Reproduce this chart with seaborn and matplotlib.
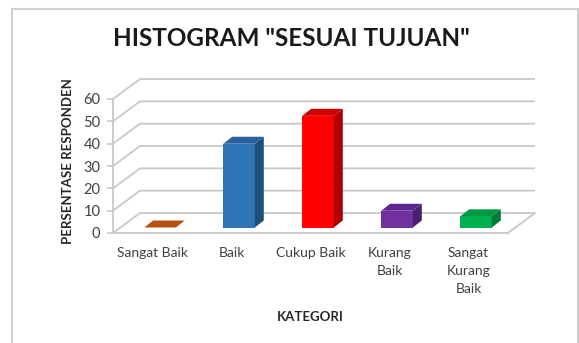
import numpy as np
import pandas as pd
import matplotlib
matplotlib.use("Agg")
import matplotlib.pyplot as plt
import seaborn as sns
from matplotlib.patches import Polygon, Rectangle
from matplotlib.transforms import offset_copy

# ---- data ----
categories = ["Sangat Baik", "Baik", "Cukup Baik", "Kurang Baik", "Sangat Kurang Baik"]
tick_labels = ["Sangat Baik", "Baik", "Cukup Baik", "Kurang\nBaik", "Sangat\nKurang\nBaik"]
values = [0, 37.5, 50, 7.5, 5]
yticks = [0, 10, 20, 30, 40, 50, 60]
title = 'HISTOGRAM "SESUAI TUJUAN"'
xlabel = "KATEGORI"
ylabel = "PERSENTASE RESPONDEN"

# ---- styles ----
front_c = ["#C55A11", "#2E75B6", "#FF0000", "#7030A0", "#00B050"]
side_c = ["#8A3E0B", "#1F4E79", "#B00000", "#4B1F6F", "#007A37"]
top_c = ["#B5520F", "#2A62A0", "#D00000", "#5E2690", "#009A45"]
grid_c = "#C8C8C8"
text_c = "#404040"

sns.set_theme(style="white")
plt.rcParams["font.family"] = ["Lato", "DejaVu Sans"]

W, H = 579, 343
fig = plt.figure(figsize=(W / 100, H / 100), dpi=100)
ax = fig.add_axes([113 / W, 110 / H, 395 / W, 134 / H])

df = pd.DataFrame({"kategori": categories, "persen": values})
sns.barplot(data=df, x="kategori", y="persen", hue="kategori", palette=front_c,
            width=0.4, legend=False, ax=ax, saturation=1, linewidth=0, zorder=5)
ax.set_xlim(-0.5, 4.5)
ax.set_ylim(0, 60)

# pixel -> data conversions
px_x = 395 / 5.0
px_y = 134 / 60.0
DX, DY = 27 / px_x, 20 / px_y  # wall depth
x0, x1 = -0.5, 4.5

# back wall gridlines + side wall slants
for v in yticks:
    ax.plot([x0, x0 + DX, x1 + DX], [v, v + DY, v + DY], color=grid_c, lw=1.3,
            clip_on=False, zorder=1, solid_capstyle="butt")
# floor right edge and front edge
ax.plot([x1, x1 + DX], [0, DY], color=grid_c, lw=1.3, clip_on=False, zorder=1)
ax.plot([x0, x1], [0, 0], color=grid_c, lw=1.3, clip_on=False, zorder=2)
ax.plot([x0, x0], [0, 60], color=grid_c, lw=1.3, clip_on=False, zorder=2)

# pseudo 3D faces for bars
shift = offset_copy(ax.transData, fig=fig, x=7.5, y=5.5, units="dots")
ddx, ddy = 9 / px_x, 7 / px_y
for i, p in enumerate(ax.patches):
    p.set_transform(shift)
    bx, by = p.get_x(), p.get_y()
    bw, bh = p.get_width(), p.get_height()
    sidep = Polygon([(bx + bw, by), (bx + bw + ddx, by + ddy),
                     (bx + bw + ddx, by + bh + ddy), (bx + bw, by + bh)],
                    closed=True, facecolor=side_c[i], edgecolor="none",
                    transform=shift, clip_on=False, zorder=5)
    topp = Polygon([(bx, by + bh), (bx + ddx, by + bh + ddy),
                    (bx + bw + ddx, by + bh + ddy), (bx + bw, by + bh)],
                   closed=True, facecolor=top_c[i], edgecolor="none",
                   transform=shift, clip_on=False, zorder=5)
    ax.add_patch(sidep)
    ax.add_patch(topp)
    p.set_clip_on(False)

for s in ax.spines.values():
    s.set_visible(False)

ax.set_yticks(yticks)
ax.set_yticklabels([str(t) for t in yticks])
ax.set_xticks(range(len(categories)))
ax.set_xticklabels(tick_labels, linespacing=1.6)
ax.tick_params(axis="y", length=4, width=1.2, color=grid_c, pad=5,
               labelsize=10.5, labelcolor=text_c, left=True, direction="out")
ax.tick_params(axis="x", length=0, pad=10, labelsize=10, labelcolor=text_c)
for lbl in ax.get_xticklabels():
    lbl.set_verticalalignment("top")
    lbl.set_horizontalalignment("center")

ax.set_xlabel(xlabel, fontsize=9.5, fontweight="bold", color="#262626")
ax.xaxis.set_label_coords(0.5, -0.627)
ax.xaxis.label.set_va("center")
ax.set_ylabel(ylabel, fontsize=9.5, fontweight="bold", color="#262626")
ax.yaxis.set_label_coords(-0.114, 0.534)
ax.yaxis.label.set_va("center")
ax.patch.set_alpha(0)

fig.text(291 / W, 1 - 39 / H, title, ha="center", va="center",
         fontsize=17.5, fontweight="bold", color="#1a1a1a")

fig.add_artist(Rectangle((12 / W, -0.02), (578 - 12) / W, 1 - 9 / H + 0.02,
                         transform=fig.transFigure, fill=False,
                         edgecolor="#D0D0D0", lw=1.5))

fig.savefig("out.png", dpi=100)
